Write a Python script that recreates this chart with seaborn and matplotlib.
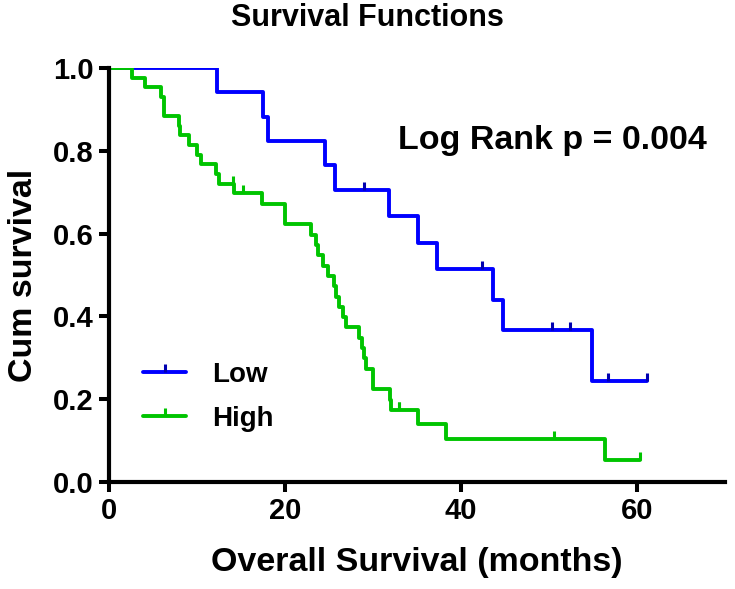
import numpy as np
import matplotlib
matplotlib.use("Agg")
import matplotlib.pyplot as plt
import seaborn as sns
from matplotlib.path import Path
from matplotlib.lines import Line2D

# survival times (months)
low_event_times = [12.3, 17.5, 18.1, 24.5, 25.7, 31.8, 35.1, 37.3, 43.6, 44.8, 54.9]
low_censor_times = [29.0, 42.4, 50.3, 52.4, 56.7, 61.1]
high_event_times = [2.6, 4.1, 5.9, 6.2, 6.2, 7.9, 8.1, 9.1, 10.0, 10.5, 12.2, 12.5,
                    14.2, 17.4, 20.0, 20.0, 23.0, 23.5, 23.7, 24.3, 24.9, 25.6, 25.8,
                    26.1, 26.6, 26.9, 28.4, 28.8, 29.0, 29.2, 30.0, 30.0, 31.9, 32.1,
                    35.1, 38.3, 56.4]
high_censor_times = [14.1, 15.2, 32.9, 32.9, 50.6, 60.3]

group_names = ["Low", "High"]
group_colors = ["#0000FF", "#00C400"]
tick_colors = ["#0000B0", "#00C400"]
p_text = "Log Rank p = 0.004"


def km(event_times, censor_times):
    times = np.array(list(event_times) + list(censor_times), dtype=float)
    events = np.array([1] * len(event_times) + [0] * len(censor_times))
    ut = np.unique(times[events == 1])
    s = 1.0
    xs = [0.0]
    ys = [1.0]
    for t in ut:
        n = np.sum(times >= t)
        d = np.sum((times == t) & (events == 1))
        s *= 1 - d / n
        xs.append(t)
        ys.append(s)
    xs.append(times.max())
    ys.append(s)
    cens = np.array(censor_times, dtype=float)
    cy = [ys[np.searchsorted(ut, c, side="right")] for c in cens]
    return xs, ys, cens, cy


sns.set_style("ticks")
plt.rcParams["font.family"] = ["Liberation Sans", "DejaVu Sans"]
plt.rcParams["font.weight"] = "bold"
plt.rcParams["text.color"] = "black"
plt.rcParams["axes.labelcolor"] = "black"
plt.rcParams["xtick.color"] = "black"
plt.rcParams["ytick.color"] = "black"
plt.rcParams["axes.edgecolor"] = "black"

fig = plt.figure(figsize=(7.35, 5.89), dpi=100)
ax = fig.add_axes([109 / 735, 1 - 482 / 589, 616 / 735, 414 / 589])

tick = Path([(0, 0), (0, 1)], [Path.MOVETO, Path.LINETO])

data = [(low_event_times, low_censor_times), (high_event_times, high_censor_times)]
handles = []
for (ev, ce), name, col, tcol in zip(data, group_names, group_colors, tick_colors):
    xs, ys, cx, cy = km(ev, ce)
    sns.lineplot(x=xs, y=ys, ax=ax, drawstyle="steps-post", estimator=None, sort=False,
                 color=col, lw=2.8)
    ax.plot(cx, cy, ls="none", marker=tick, ms=11, mew=2.2, mec=tcol, clip_on=False)
    handles.append(Line2D([0], [0], color=col, lw=2.8, marker=tick, ms=11, mew=2.2, mec=tcol))

ax.set_xlim(0, 70)
ax.set_ylim(0, 1.0)
ax.set_xticks([0, 20, 40, 60])
ax.set_yticks([0.0, 0.2, 0.4, 0.6, 0.8, 1.0])
ax.yaxis.set_major_formatter(matplotlib.ticker.FormatStrFormatter("%.1f"))
sns.despine(ax=ax)
for sp in ["left", "bottom"]:
    ax.spines[sp].set_linewidth(3.0)
    ax.spines[sp].set_color("black")
ax.tick_params(width=2.9, length=7, pad=4, labelsize=21, color="black", labelcolor="black")
for lab in ax.get_xticklabels() + ax.get_yticklabels():
    lab.set_fontweight("bold")

ax.set_xlabel("Overall Survival (months)", fontsize=24.5, fontweight="bold", labelpad=16)
ax.set_ylabel("Cum survival", fontsize=24.5, fontweight="bold", labelpad=10)
fig.text(0.5, 1 - 18 / 589, "Survival Functions", ha="center", va="center",
         fontsize=22, fontweight="bold")
ax.text(32.8, 0.826, p_text, fontsize=24.5, fontweight="bold", va="center", ha="left")

ax.legend(handles, group_names, loc="center left", bbox_to_anchor=(34 / 616, 0.205),
          frameon=False, handlelength=1.55, handletextpad=0.95,
          labelspacing=0.65, borderpad=0, borderaxespad=0, numpoints=1,
          prop={"weight": "bold", "size": 20})

fig.savefig("out.png", dpi=100)
